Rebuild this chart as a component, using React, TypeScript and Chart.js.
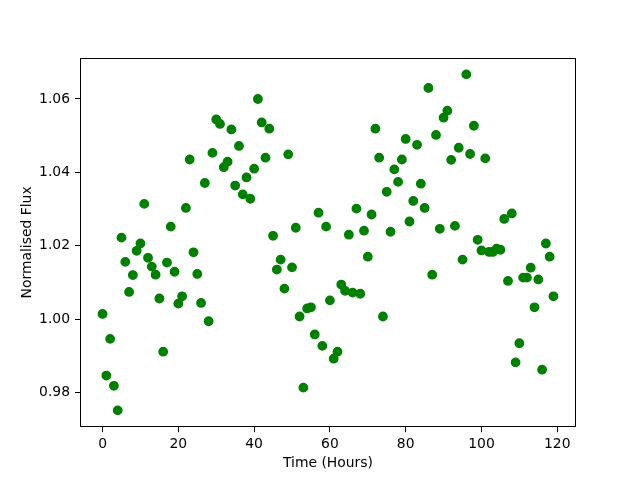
import React, { useEffect, useRef } from "react";
import { Chart, registerables } from "chart.js";

Chart.register(...registerables);

const hours: number[] = [
  0, 1, 2, 3, 4, 5, 6, 7, 8, 9, 10, 11, 12, 13, 14, 15, 16, 17, 18, 19,
  20, 21, 22, 23, 24, 25, 26, 27, 28, 29, 30, 31, 32, 33, 34, 35, 36, 37, 38, 39,
  40, 41, 42, 43, 44, 45, 46, 47, 48, 49, 50, 51, 52, 53, 54, 55, 56, 57, 58, 59,
  60, 61, 62, 63, 64, 65, 66, 67, 68, 69, 70, 71, 72, 73, 74, 75, 76, 77, 78, 79,
  80, 81, 82, 83, 84, 85, 86, 87, 88, 89, 90, 91, 92, 93, 94, 95, 96, 97, 98, 99,
  100, 101, 102, 103, 104, 105, 106, 107, 108, 109, 110, 111, 112, 113, 114, 115, 116, 117, 118, 119,
];

const flux: number[] = [
  1.0014, 0.9846, 0.9946, 0.9818, 0.9751, 1.0222, 1.0156, 1.0074, 1.012, 1.0186,
  1.0206, 1.0314, 1.0167, 1.0143, 1.0121, 1.0056, 0.9911, 1.0154, 1.0252, 1.0129,
  1.0042, 1.0062, 1.0303, 1.0435, 1.0182, 1.0123, 1.0044, 1.0371, 0.9994, 1.0453,
  1.0544, 1.0532, 1.0414, 1.0429, 1.0517, 1.0364, 1.0472, 1.034, 1.0386, 1.0328,
  1.041, 1.06, 1.0536, 1.044, 1.0519, 1.0227, 1.0135, 1.0162, 1.0083, 1.0449,
  1.0141, 1.0249, 1.0007, 0.9813, 1.0029, 1.0032, 0.9958, 1.029, 0.9927, 1.0252,
  1.0051, 0.9892, 0.9911, 1.0094, 1.0077, 1.023, 1.0072, 1.0301, 1.0069, 1.0241,
  1.017, 1.0285, 1.0519, 1.044, 1.0007, 1.0347, 1.0238, 1.0408, 1.0374, 1.0435,
  1.0491, 1.0266, 1.0322, 1.0475, 1.0369, 1.0303, 1.063, 1.0121, 1.0502, 1.0246,
  1.0549, 1.0568, 1.0434, 1.0254, 1.0467, 1.0162, 1.0667, 1.045, 1.0527, 1.0216,
  1.0187, 1.0438, 1.0183, 1.0183, 1.0192, 1.0189, 1.0273, 1.0104, 1.0288, 0.9882,
  0.9934, 1.0113, 1.0113, 1.014, 1.0032, 1.0108, 0.9862, 1.0206, 1.017, 1.0062,
];

const xTicks: number[] = [0, 20, 40, 60, 80, 100, 120];
const yTicks: number[] = [0.98, 1.0, 1.02, 1.04, 1.06];
const yTickLabels: string[] = ["0.98", "1.00", "1.02", "1.04", "1.06"];
const xTitle = "Time (Hours)";
const yTitle = "Normalised Flux";

const X_MIN = -5.95;
const X_MAX = 124.95;
const Y_MIN = 0.97052;
const Y_MAX = 1.07128;

const FONT = "'DejaVu Sans', sans-serif";

const framePlugin = {
  id: "frame",
  afterDraw(chart: any) {
    const { ctx, chartArea } = chart;
    ctx.save();
    ctx.strokeStyle = "#000";
    ctx.lineWidth = 1;
    ctx.strokeRect(
      Math.round(chartArea.left) + 0.5,
      Math.round(chartArea.top) + 0.5,
      Math.round(chartArea.right) - Math.round(chartArea.left) - 1,
      Math.round(chartArea.bottom) - Math.round(chartArea.top) - 1
    );
    ctx.restore();
  },
};

export default function App() {
  const ref = useRef<HTMLCanvasElement | null>(null);

  useEffect(() => {
    if (!ref.current) return;
    const points = hours.map((h, i) => ({ x: h, y: flux[i] }));
    const chart = new Chart(ref.current, {
      type: "scatter",
      data: {
        datasets: [
          {
            data: points,
            backgroundColor: "#008000",
            borderColor: "#008000",
            pointRadius: 4.2,
            pointBorderWidth: 1.4,
            pointHoverRadius: 4.2,
          },
        ],
      },
      options: {
        responsive: false,
        animation: false,
        events: [],
        layout: { padding: { left: 0, top: 57.6, right: 64, bottom: 0 } },
        plugins: {
          legend: { display: false },
          tooltip: { enabled: false },
        },
        scales: {
          x: {
            type: "linear",
            min: X_MIN,
            max: X_MAX,
            afterBuildTicks: (scale: any) => {
              scale.ticks = xTicks.map((v) => ({ value: v }));
            },
            afterFit: (scale: any) => {
              scale.height = 52.8;
            },
            grid: {
              display: true,
              drawOnChartArea: false,
              drawTicks: true,
              tickLength: 5,
              tickWidth: 1,
              tickColor: "#000",
            },
            border: { display: false },
            ticks: {
              color: "#000",
              padding: 4,
              maxRotation: 0,
              font: { family: FONT, size: 13.9 },
              callback: (v: any) => String(v),
            },
            title: {
              display: true,
              text: xTitle,
              color: "#000",
              font: { family: FONT, size: 13.9 },
              padding: { top: 0, bottom: 8 },
            },
          },
          y: {
            type: "linear",
            min: Y_MIN,
            max: Y_MAX,
            afterBuildTicks: (scale: any) => {
              scale.ticks = yTicks.map((v) => ({ value: v }));
            },
            afterFit: (scale: any) => {
              scale.width = 80;
            },
            grid: {
              display: true,
              drawOnChartArea: false,
              drawTicks: true,
              tickLength: 5,
              tickWidth: 1,
              tickColor: "#000",
            },
            border: { display: false },
            ticks: {
              color: "#000",
              padding: 5,
              font: { family: FONT, size: 13.9 },
              callback: (v: any) => {
                const idx = yTicks.findIndex((t) => Math.abs(t - Number(v)) < 1e-9);
                return idx >= 0 ? yTickLabels[idx] : "";
              },
            },
            title: {
              display: true,
              text: yTitle,
              color: "#000",
              font: { family: FONT, size: 13.9 },
              padding: { top: 19, bottom: 0 },
            },
          },
        },
      },
      plugins: [framePlugin],
    });
    return () => chart.destroy();
  }, []);

  return (
    <div style={{ position: "fixed", left: 0, top: 0, width: 640, height: 480, background: "#fff" }}>
      <canvas ref={ref} width={640} height={480} style={{ width: 640, height: 480 }} />
    </div>
  );
}
